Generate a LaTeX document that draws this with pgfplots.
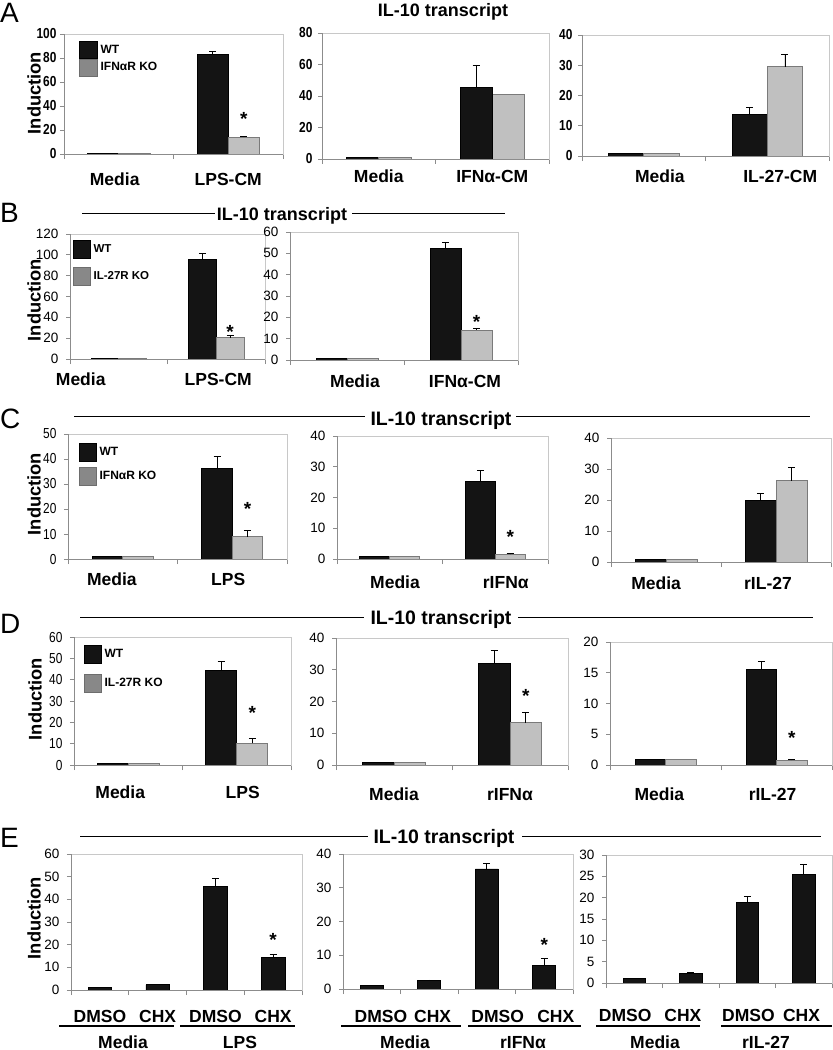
\documentclass[border=0pt]{standalone}
\usepackage{pgfplots}
\pgfplotsset{compat=1.18}
\usepackage{fontspec}
\setmainfont{Liberation Sans}
\newfontfamily\nar[FakeStretch=0.82]{Liberation Sans}
\definecolor{barblack}{HTML}{141414}
\definecolor{bargray}{HTML}{C0C0C0}
\definecolor{baredge}{HTML}{7A7A7A}
\definecolor{leggray}{HTML}{888888}
\definecolor{framegray}{HTML}{C8C8C8}
\definecolor{axgray}{HTML}{8C8C8C}
\newcommand\fTickA{\nar\bfseries\fontsize{14.5}{15}\selectfont}
\newcommand\fTick{\fontsize{13.5}{14}\selectfont}
\newcommand\fTickN{\nar\fontsize{14.5}{15}\selectfont}
\newcommand\fCat{\bfseries\fontsize{17.5}{18}\selectfont}
\newcommand\fLeg{\bfseries\fontsize{12}{13}\selectfont}
\newcommand\fLegB{\bfseries\fontsize{11.5}{12}\selectfont}
\newcommand\fTitle{\bfseries\fontsize{18}{19}\selectfont}
\newcommand\fTitleC{\bfseries\fontsize{19.5}{20}\selectfont}
\newcommand\fInd{\bfseries\fontsize{18.3}{19}\selectfont}
\newcommand\fLet{\fontsize{28}{30}\selectfont}
\newcommand\fStar{\bfseries\fontsize{19}{20}\selectfont}
\newcommand\axlines{\draw[axgray, line width=0.9pt] (rel axis cs:0,1) -- (rel axis cs:0,0) -- (rel axis cs:1,0);}
\pgfplotsset{
  panel/.style={
    scale only axis, anchor=north west,
    ymin=0, xmin=-0.5, xmax=1.5,
    axis line style={draw=framegray, line width=0.8pt},
    tick align=outside,
    major tick length=4pt, minor tick length=5pt,
    ytick pos=left, xtick pos=bottom,
    major y tick style={draw=axgray, line width=0.8pt},
    minor y tick style={draw=none},
    major x tick style={draw=none},
    minor x tick style={draw=axgray, line width=0.8pt},
    minor xtick={-0.5,0.5,1.5},
    xticklabel style={font=\fCat, anchor=base},
    yticklabel style={font=\fTick, xshift=-4pt},
    /pgf/number format/assume math mode=true,
    clip=false,
    legend cell align=left,
    legend image code/.code={\draw[##1] (0pt,-9pt) rectangle (17pt,9pt);},
  },
  four/.style={xmax=3.5, minor xtick={-0.5,0.5,1.5,2.5,3.5}, xtick={0,1,2,3}, xticklabels={DMSO,CHX,DMSO,CHX}},
  bars/.style={forget plot, ybar, bar shift=0pt, line width=0.6pt},
  errs/.style={bars,
    error bars/y dir=plus, error bars/y explicit,
    error bars/error mark=|,
    error bars/error bar style={line width=0.7pt, black},
    error bars/error mark options={line width=0.7pt, black, mark size=3.5pt}},
  wt/.style={errs, fill=barblack, draw=black},
  ko/.style={errs, fill=bargray, draw=baredge},
  wtn/.style={bars, fill=barblack, draw=black},
  kon/.style={bars, fill=bargray, draw=baredge},
  leg/.style={legend style={at={(rel axis cs:0,1)}, anchor=north west, draw=none, fill=none, inner sep=0pt, column sep=3pt, nodes={inner sep=0pt}, #1}},
}
\tikzset{sig/.style={font=\fStar, inner sep=0pt, anchor=base, yshift=-11pt}}
\begin{document}
\begin{tikzpicture}
\useasboundingbox (0pt,0pt) rectangle (833pt,-1050pt);
% ---------------- Row A
\node[anchor=base west, inner sep=0pt, font=\fLet] at (0pt,-22pt) {A};
\node[anchor=base, inner sep=0pt, font=\fTitle] at (443pt,-16pt) {IL-10 transcript};
\node[rotate=90, font=\fInd] at (34pt,-93pt) {Induction};
\begin{axis}[panel, at={(64pt,-34pt)}, width=219pt, height=120pt, ymax=100, ytick={0,20,...,100},
  bar width=31.3pt, xtick={-0.037,1}, xticklabels={Media,LPS-CM}, xticklabel style={yshift=-27pt},
  yticklabel style={font=\fTickA, xshift=4pt},
  leg={xshift=15pt, yshift=-7pt, row sep=0pt, font=\fLeg},
  legend image code/.code={\draw[#1] (0pt,-8.5pt) rectangle (18pt,8.5pt);}]
\addplot[wtn] coordinates {(-0.143,1)};
\addplot[kon] coordinates {(0.143,1)};
\addplot[wt] coordinates {(0.857,83.5) +- (0,1.8)};
\addplot[ko] coordinates {(1.143,14) +- (0,1)};
\addlegendimage{fill=barblack, draw=black}\addlegendentry{WT}
\addlegendimage{fill=leggray, draw=leggray!80!black}\addlegendentry{IFNαR KO}
\node[sig] at (axis cs:1.143,33) {*};
\axlines
\end{axis}
\begin{axis}[panel, at={(322pt,-33pt)}, width=227pt, height=126pt, ymax=80, ytick={0,20,...,80},
  bar width=32.4pt, xtick={0,1}, xticklabels={Media,IFNα-CM}, xticklabel style={yshift=-20pt},
  yticklabel style={font=\fTickA, xshift=2pt}]
\addplot[wtn] coordinates {(-0.143,1)};
\addplot[kon] coordinates {(0.143,1) (1.143,41.1)};
\addplot[wt] coordinates {(0.857,45.5) +- (0,14.2)};
\axlines
\end{axis}
\begin{axis}[panel, at={(582pt,-35pt)}, width=247pt, height=121pt, ymax=40, ytick={0,10,...,40},
  bar width=35.3pt, xtick={0.13,1.105}, xticklabels={Media,IL-27-CM}, xticklabel style={yshift=-22pt},
  yticklabel style={font=\fTickA, xshift=2pt}]
\addplot[wtn] coordinates {(-0.143,1)};
\addplot[kon] coordinates {(0.143,1)};
\addplot[wt] coordinates {(0.857,13.9) +- (0,2.1)};
\addplot[ko] coordinates {(1.143,29.5) +- (0,4.2)};
\axlines
\end{axis}
% ---------------- Row B
\node[anchor=base west, inner sep=0pt, font=\fLet] at (0pt,-222pt) {B};
\node[anchor=base, inner sep=0pt, font=\fTitle] at (282pt,-220pt) {IL-10 transcript};
\draw[line width=1pt] (82pt,-213pt) -- (215pt,-213pt);
\draw[line width=1pt] (352pt,-213pt) -- (505pt,-213pt);
\node[rotate=90, font=\fInd] at (34pt,-300pt) {Induction};
\begin{axis}[panel, at={(70pt,-234pt)}, width=195pt, height=125pt, ymax=120, ytick={0,20,...,120},
  bar width=27.9pt, xtick={-0.39,1.02}, xticklabels={Media,LPS-CM}, xticklabel style={yshift=-22pt},
  leg={xshift=3pt, yshift=-6pt, row sep=8pt, font=\fLegB}]
\addplot[wtn] coordinates {(-0.143,1)};
\addplot[kon] coordinates {(0.143,1)};
\addplot[wt] coordinates {(0.857,95.7) +- (0,5.6)};
\addplot[ko] coordinates {(1.143,20.5) +- (0,1.8)};
\addlegendimage{fill=barblack, draw=black}\addlegendentry{WT}
\addlegendimage{fill=leggray, draw=leggray!80!black}\addlegendentry{IL-27R KO}
\node[sig] at (axis cs:1.143,30.5) {*};
\axlines
\end{axis}
\begin{axis}[panel, at={(290pt,-232pt)}, width=228pt, height=128pt, ymax=60, ytick={0,10,...,60},
  bar width=31pt, xtick={0.07,1.035}, xticklabels={Media,IFNα-CM}, xticklabel style={yshift=-23pt}]
\addplot[wtn] coordinates {(-0.136,1)};
\addplot[kon] coordinates {(0.136,1)};
\addplot[wt] coordinates {(0.864,52.5) +- (0,2.8)};
\addplot[ko] coordinates {(1.136,14.1) +- (0,0.7)};
\node[sig] at (axis cs:1.136,19.7) {*};
\axlines
\end{axis}
% ---------------- Row C
\node[anchor=base west, inner sep=0pt, font=\fLet] at (0pt,-428pt) {C};
\node[anchor=base, inner sep=0pt, font=\fTitleC] at (441pt,-425pt) {IL-10 transcript};
\draw[line width=1pt] (74pt,-416pt) -- (365pt,-416pt);
\draw[line width=1pt] (516pt,-416pt) -- (810pt,-416pt);
\node[rotate=90, font=\fInd] at (34pt,-494pt) {Induction};
\begin{axis}[panel, at={(68pt,-434pt)}, width=219pt, height=125pt, ymax=50, ytick={0,10,...,50},
  bar width=30.5pt, xtick={-0.1,0.963}, xticklabels={Media,LPS}, xticklabel style={yshift=-22pt},
  yticklabel style={font=\fTickN},
  leg={xshift=11pt, yshift=-9pt, row sep=5pt, font=\fLeg}]
\addplot[wtn] coordinates {(-0.139,1)};
\addplot[kon] coordinates {(0.139,1)};
\addplot[wt] coordinates {(0.861,36.3) +- (0,4.6)};
\addplot[ko] coordinates {(1.139,8.9) +- (0,2.7)};
\addlegendimage{fill=barblack, draw=black}\addlegendentry{WT}
\addlegendimage{fill=leggray, draw=leggray!80!black}\addlegendentry{IFNαR KO}
\node[sig] at (axis cs:1.139,22) {*};
\axlines
\end{axis}
\begin{axis}[panel, at={(337pt,-436pt)}, width=211pt, height=123pt, ymax=40, ytick={0,10,...,40},
  bar width=30pt, xtick={0.05,1.1}, xticklabels={Media,rIFNα}, xticklabel style={yshift=-25pt}]
\addplot[wtn] coordinates {(-0.142,1)};
\addplot[kon] coordinates {(0.142,1)};
\addplot[wt] coordinates {(0.858,25.4) +- (0,3.5)};
\addplot[ko] coordinates {(1.142,1.5) +- (0,0.3)};
\node[sig] at (axis cs:1.142,8.5) {*};
\axlines
\end{axis}
\begin{axis}[panel, at={(611pt,-438pt)}, width=220pt, height=124pt, ymax=40, ytick={0,10,...,40},
  bar width=31pt, xtick={-0.09,0.927}, xticklabels={Media,rIL-27}, xticklabel style={yshift=-23pt}]
\addplot[wtn] coordinates {(-0.141,1)};
\addplot[kon] coordinates {(0.141,1)};
\addplot[wt] coordinates {(0.859,19.8) +- (0,2.4)};
\addplot[ko] coordinates {(1.141,26.2) +- (0,4.2)};
\axlines
\end{axis}
% ---------------- Row D
\node[anchor=base west, inner sep=0pt, font=\fLet] at (0pt,-633pt) {D};
\node[anchor=base, inner sep=0pt, font=\fTitleC] at (441pt,-624pt) {IL-10 transcript};
\draw[line width=1pt] (80pt,-617pt) -- (364pt,-617pt);
\draw[line width=1pt] (518pt,-617pt) -- (813pt,-617pt);
\node[rotate=90, font=\fInd] at (35pt,-699pt) {Induction};
\begin{axis}[panel, at={(74pt,-637pt)}, width=217pt, height=128pt, ymax=60, ytick={0,10,...,60},
  bar width=31pt, xtick={-0.074,1.055}, xticklabels={Media,LPS}, xticklabel style={yshift=-29pt},
  yticklabel style={font=\fTickN},
  leg={xshift=10pt, yshift=-8pt, row sep=10pt, font=\fLeg}]
\addplot[wtn] coordinates {(-0.143,1)};
\addplot[kon] coordinates {(0.143,1)};
\addplot[wt] coordinates {(0.857,44.3) +- (0,4.2)};
\addplot[ko] coordinates {(1.143,10.2) +- (0,2.1)};
\addlegendimage{fill=barblack, draw=black}\addlegendentry{WT}
\addlegendimage{fill=leggray, draw=leggray!80!black}\addlegendentry{IL-27R KO}
\node[sig] at (axis cs:1.143,26.7) {*};
\axlines
\end{axis}
\begin{axis}[panel, at={(336pt,-638pt)}, width=232pt, height=127pt, ymax=40, ytick={0,10,...,40},
  bar width=31.5pt, xtick={0,1}, xticklabels={Media,rIFNα}, xticklabel style={yshift=-31pt}]
\addplot[wtn] coordinates {(-0.136,1)};
\addplot[kon] coordinates {(0.136,1)};
\addplot[wt] coordinates {(0.864,32) +- (0,4.2)};
\addplot[ko] coordinates {(1.136,13.3) +- (0,3.2)};
\node[sig] at (axis cs:1.136,23) {*};
\axlines
\end{axis}
\begin{axis}[panel, at={(610pt,-642pt)}, width=222pt, height=123pt, ymax=20, ytick={0,5,...,20},
  bar width=30.5pt, xtick={-0.055,0.965}, xticklabels={Media,rIL-27}, xticklabel style={yshift=-31pt}]
\addplot[wtn] coordinates {(-0.137,1)};
\addplot[kon] coordinates {(0.137,1)};
\addplot[wt] coordinates {(0.863,15.6) +- (0,1.2)};
\addplot[ko] coordinates {(1.137,0.8) +- (0,0.1)};
\node[sig] at (axis cs:1.137,5.2) {*};
\axlines
\end{axis}
% ---------------- Row E
\node[anchor=base west, inner sep=0pt, font=\fLet] at (0pt,-847pt) {E};
\node[anchor=base, inner sep=0pt, font=\fTitleC] at (444pt,-843pt) {IL-10 transcript};
\draw[line width=1pt] (80pt,-836pt) -- (368pt,-836pt);
\draw[line width=1pt] (522pt,-836pt) -- (821pt,-836pt);
\node[rotate=90, font=\fInd] at (34pt,-918pt) {Induction};
\begin{axis}[panel, four, at={(71pt,-854pt)}, width=231pt, height=136pt, ymax=60, ytick={0,10,...,60},
  bar width=23.5pt, xticklabel style={yshift=-28pt}]
\addplot[wtn] coordinates {(0,1)};
\addplot[wt] coordinates {(1,2.3) +- (0,0.3) (2,45.6) +- (0,3.6) (3,14.5) +- (0,1.1)};
\node[sig, yshift=0pt] at (axis cs:3,24) {*};
\axlines
\end{axis}
\begin{axis}[panel, four, at={(343pt,-854pt)}, width=230pt, height=135pt, ymax=40, ytick={0,10,...,40},
  bar width=23pt, xtick={0.16,1.06,2.19,3.2}, xticklabel style={yshift=-29pt}]
\addplot[wtn] coordinates {(0,1.1)};
\addplot[wt] coordinates {(1,2.5) +- (0,0.2) (2,35.6) +- (0,1.7) (3,6.9) +- (0,2.1)};
\node[sig, yshift=0pt] at (axis cs:3,14.5) {*};
\axlines
\end{axis}
\begin{axis}[panel, four, at={(606pt,-855pt)}, width=226pt, height=128pt, ymax=30, ytick={0,5,...,30},
  bar width=22.5pt, xtick={-0.16,0.86,2.02,2.96}, xticklabel style={yshift=-34.5pt}]
\addplot[wtn] coordinates {(0,1)};
\addplot[wt] coordinates {(1,2.3) +- (0,0.2) (2,18.9) +- (0,1.3) (3,25.5) +- (0,2.2)};
\axlines
\end{axis}
% group underlines and labels for E
\draw[line width=1.2pt] (59pt,-1026pt) -- (174pt,-1026pt);
\draw[line width=1.2pt] (180pt,-1026pt) -- (295pt,-1026pt);
\draw[line width=1.2pt] (341pt,-1026pt) -- (461pt,-1026pt);
\draw[line width=1.2pt] (468pt,-1026pt) -- (581pt,-1026pt);
\draw[line width=1.2pt] (596pt,-1026pt) -- (700pt,-1026pt);
\draw[line width=1.2pt] (721pt,-1026pt) -- (832pt,-1026pt);
\node[anchor=base, inner sep=0pt, font=\fCat] at (123pt,-1048pt) {Media};
\node[anchor=base, inner sep=0pt, font=\fCat] at (240pt,-1048pt) {LPS};
\node[anchor=base, inner sep=0pt, font=\fCat] at (405pt,-1048pt) {Media};
\node[anchor=base, inner sep=0pt, font=\fCat] at (523pt,-1048pt) {rIFNα};
\node[anchor=base, inner sep=0pt, font=\fCat] at (655pt,-1048pt) {Media};
\node[anchor=base, inner sep=0pt, font=\fCat] at (766pt,-1048pt) {rIL-27};
\end{tikzpicture}
\end{document}
